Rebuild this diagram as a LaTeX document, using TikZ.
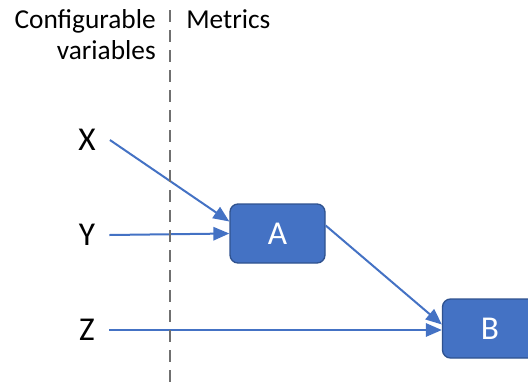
\documentclass[tikz,border=0pt]{standalone}
\usepackage{fontspec}
\setmainfont{Carlito}
\usetikzlibrary{arrows.meta,calc}
\definecolor{boxfill}{HTML}{4472C4}
\definecolor{boxedge}{HTML}{2F528F}
\definecolor{divider}{HTML}{707070}
\tikzset{
  metric/.style={draw=boxedge, line width=1pt, fill=boxfill, rounded corners=6pt,
    minimum width=71.25pt, minimum height=44.25pt, text=white, font=\fontsize{25}{30}\selectfont, inner sep=0pt},
  var/.style={font=\fontsize{25}{30}\selectfont, inner sep=0pt},
  head/.style={font=\fontsize{20.5}{25}\selectfont, inner sep=0pt},
  link/.style={draw=boxfill, line width=1.5pt, -{Triangle[length=12pt,width=10pt]}},
}
\begin{document}
\begin{tikzpicture}[x=0.75pt,y=-0.75pt]
  \clip (0,0) rectangle (528,383);
  \useasboundingbox (0,0) rectangle (528,383);
  % column headings
  \node[head, anchor=base east] (conf) at (156,28) {Configurable};
  \node[head, anchor=base east] (vars) at (156,59) {variables};
  \node[head, anchor=base west] (metr) at (186,28) {Metrics};
  % variables
  \node[var] (X) at (87,140) {X};
  \node[var] (Y) at (87,235) {Y};
  \node[var] (Z) at (87,330) {Z};
  % metrics
  \node[metric] (A) at (277.5,233.5) {A};
  \node[metric] (B) at (490,328.5) {B};
  % connectors
  \draw[link] ($(X.east)+(14,0)$) -- ($(A.west)+(0,-12)$);
  \draw[link] ($(Y.east)+(14,0)$) -- (A.west);
  \draw[link] ($(Z.east)+(14,0)$) -- ($(B.west)+(0,1.5)$);
  \draw[link] ($(A.east)+(0,-8)$) -- ($(B.west)+(0,-4)$);
  % divider between the two columns
  \coordinate (top) at (170,10);
  \coordinate (bot) at (170,383);
  \draw[divider, line width=1.6pt, dash pattern=on 9pt off 6pt] (top) -- (bot);
\end{tikzpicture}
\end{document}
